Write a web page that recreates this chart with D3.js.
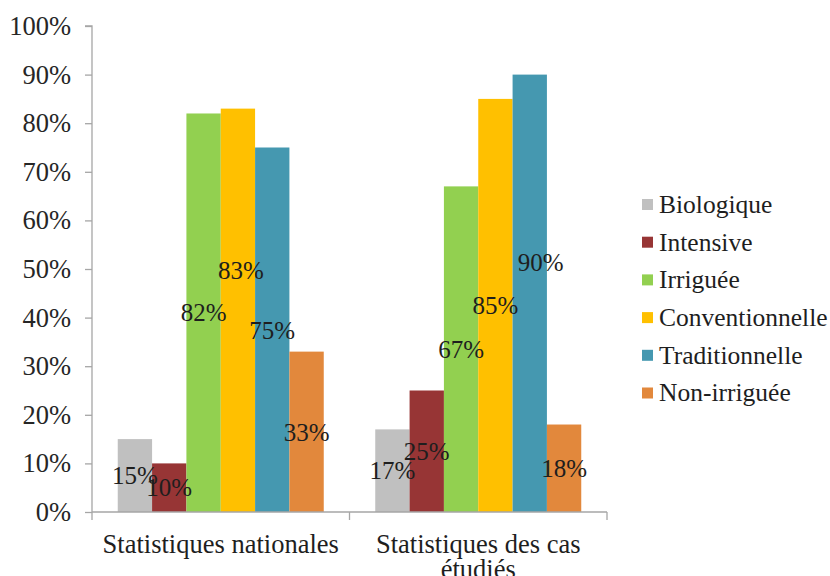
<!DOCTYPE html>
<html>
<head>
<meta charset="utf-8">
<script src="https://cdn.jsdelivr.net/npm/d3@7"></script>
<style>
  html, body { margin: 0; padding: 0; background: #ffffff; }
  svg { display: block; }
</style>
</head>
<body>
<svg id="chart" width="830" height="576" style="font-family: 'Liberation Serif', 'Times New Roman', serif;"></svg>
<script>
// ---- Data ----
const categories = ["Statistiques nationales", "Statistiques des cas étudiés"];
const seriesNames = ["Biologique", "Intensive", "Irriguée", "Conventionnelle", "Traditionnelle", "Non-irriguée"];
const nationales = [15, 10, 82, 83, 75, 33];
const casEtudies = [17, 25, 67, 85, 90, 18];
const yTicks = [0, 10, 20, 30, 40, 50, 60, 70, 80, 90, 100];

// ---- Styles ----
const colors = ["#c0c0c0", "#973535", "#92d050", "#ffc000", "#4598b0", "#e2883c"];
const serif = "'Liberation Serif', 'Times New Roman', serif";
const textColor = "#1e1e1e";
const axisColor = "#a6a6a6";

const seriesValues = [nationales, casEtudies];

const svg = d3.select("#chart");
const margin = { left: 92, right: 223, top: 26, bottom: 64 };
const W = 830, H = 576;
const plotRight = W - margin.right;
const plotBottom = H - margin.bottom;

const x0 = d3.scaleBand().domain(categories).range([margin.left, plotRight]).paddingInner(0).paddingOuter(0);
const x1 = d3.scaleBand().domain(seriesNames).range([0, x0.bandwidth()]).paddingInner(0).paddingOuter(0.75);
const y = d3.scaleLinear().domain([0, 100]).range([plotBottom, margin.top]);

// Manual label nudges (as in the original, some labels were dragged)
const labelNudge = {
  "0|3": [3, -40],
  "1|4": [11, -31]
};

// Y axis
const yAxis = d3.axisLeft(y).tickValues(yTicks).tickFormat(d => d + "%").tickSize(7).tickPadding(14);
const gy = svg.append("g").attr("transform", `translate(${margin.left},0)`).call(yAxis)
  .attr("font-family", null).attr("font-size", null);
gy.select(".domain").attr("stroke", axisColor).attr("stroke-width", 1.3).attr("d", `M-7,${margin.top}H0V${plotBottom}`);
gy.selectAll(".tick line").attr("stroke", axisColor).attr("stroke-width", 1.3);
gy.selectAll(".tick text").attr("fill", "#262626").style("font-family", serif).style("font-size", "26.5px");

// Bars
const groups = svg.append("g").selectAll("g").data(categories).join("g")
  .attr("transform", d => `translate(${x0(d)},0)`);

groups.each(function(cat, ci) {
  const g = d3.select(this);
  const vals = seriesValues[ci];
  g.selectAll("rect").data(seriesNames).join("rect")
    .attr("x", s => x1(s))
    .attr("width", x1.bandwidth())
    .attr("y", (s, i) => y(vals[i]))
    .attr("height", (s, i) => y(0) - y(vals[i]))
    .attr("fill", (s, i) => colors[i]);
});

// X axis
const xAxisG = svg.append("g").attr("transform", `translate(0,${plotBottom})`);
xAxisG.append("line").attr("x1", margin.left).attr("x2", plotRight).attr("y1", 0).attr("y2", 0)
  .attr("stroke", axisColor).attr("stroke-width", 1.3);
const xTickPositions = [margin.left].concat(categories.map(c => x0(c) + x0.bandwidth()));
xAxisG.selectAll("line.tk").data(xTickPositions).join("line").attr("class", "tk")
  .attr("x1", d => d).attr("x2", d => d).attr("y1", 0).attr("y2", 8)
  .attr("stroke", axisColor).attr("stroke-width", 1.3);

// Category labels (wrapped like the original)
const catLines = [["Statistiques nationales"], ["Statistiques des cas", "étudiés"]];
categories.forEach((c, ci) => {
  const t = svg.append("text")
    .attr("x", x0(c) + x0.bandwidth() / 2)
    .attr("y", plotBottom + 41)
    .attr("text-anchor", "middle")
    .attr("fill", textColor)
    .style("font-family", serif)
    .style("font-size", "26.5px");
  catLines[ci].forEach((ln, li) => {
    t.append("tspan").attr("x", x0(c) + x0.bandwidth() / 2).attr("dy", li === 0 ? 0 : 25).text(ln);
  });
});

// Data labels (centered in bars)
groups.each(function(cat, ci) {
  const g = d3.select(this);
  const vals = seriesValues[ci];
  g.selectAll("text.lbl").data(seriesNames).join("text").attr("class", "lbl")
    .attr("x", (s, i) => x1(s) + x1.bandwidth() / 2 + ((labelNudge[ci + "|" + i] || [0, 0])[0]))
    .attr("y", (s, i) => (y(vals[i]) + y(0)) / 2 + ((labelNudge[ci + "|" + i] || [0, 0])[1]))
    .attr("dy", "0.35em")
    .attr("text-anchor", "middle")
    .attr("fill", textColor)
    .style("font-family", serif)
    .style("font-size", "25px")
    .text((s, i) => vals[i] + "%");
});

// Legend
const legend = svg.append("g").attr("transform", "translate(642,204)");
const li = legend.selectAll("g").data(seriesNames).join("g")
  .attr("transform", (d, i) => `translate(0,${i * 37.7})`);
li.append("rect").attr("x", 0).attr("y", -5).attr("width", 11).attr("height", 11)
  .attr("fill", (d, i) => colors[i]);
li.append("text").attr("x", 17).attr("y", 0).attr("dy", "0.35em")
  .attr("fill", textColor)
  .style("font-family", serif)
  .style("font-size", "25.5px")
  .text(d => d);
</script>
</body>
</html>
